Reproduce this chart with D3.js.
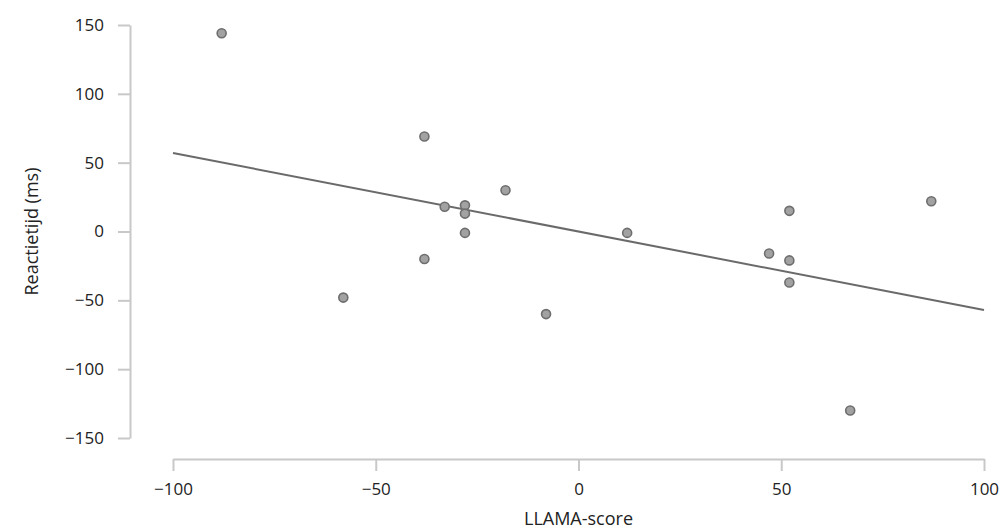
<!DOCTYPE html>
<html>
<head>
<meta charset="utf-8">
<script src="https://cdn.jsdelivr.net/npm/d3@7"></script>
<style>
    body { margin: 0; background: #fff; }
    svg { display: block; }
    .axis path, .axis line { stroke: #c8c8c8; stroke-width: 2; }
    .axis text { font-family: "Open Sans", sans-serif; font-size: 17px; fill: #222; }
    .title { font-family: "Open Sans", sans-serif; font-size: 18px; fill: #222; }
</style>
</head>
<body>
<svg id="chart"></svg>
<script>
/* =====
   DATA
==== */

const llamaScore = [-88, -38, -33, -28, -28, -28, -18, -38, -58, -8, 12, 47, 52, 52, 52, 87, 67];
const reactionMs = [144, 69, 18, 19, 13, -1, 30, -20, -48, -60, -1, -16, 15, -21, -37, 22, -130];

// fitted regression line
const fitX = [-100, 100];
const fitY = [57, -57];

const xTicks = [-100, -50, 0, 50, 100];
const yTicks = [-150, -100, -50, 0, 50, 100, 150];


/* =====
   SETUP
==== */

const width = 1001;
const height = 531;

const svg = d3.select("#chart")
    .attr("width", width)
    .attr("height", height);

const x = d3.scaleLinear().domain([-100, 100]).range([173, 984]);
const y = d3.scaleLinear().domain([-150, 150]).range([438, 25]);

const fmt = d => String(d).replace("-", "\u2212");

// Axes (offset from each other, like a despined plot)
svg.append("g")
    .attr("class", "axis")
    .attr("transform", "translate(0,459)")
    .call(d3.axisBottom(x).tickValues(xTicks).tickSize(12).tickSizeOuter(0).tickPadding(12).tickFormat(fmt));

svg.append("g")
    .attr("class", "axis")
    .attr("transform", "translate(130,0)")
    .call(d3.axisLeft(y).tickValues(yTicks).tickSize(12).tickSizeOuter(0).tickPadding(14).tickFormat(fmt));

// Regression line
svg.append("line")
    .attr("x1", x(fitX[0]))
    .attr("y1", y(fitY[0]))
    .attr("x2", x(fitX[1]))
    .attr("y2", y(fitY[1]))
    .attr("stroke", "#6a6a6a")
    .attr("stroke-width", 2);

// Points
svg.selectAll(".dot")
    .data(llamaScore.map((v, i) => [v, reactionMs[i]]))
    .enter()
    .append("circle")
    .attr("class", "dot")
    .attr("cx", d => x(d[0]))
    .attr("cy", d => y(d[1]))
    .attr("r", 4.5)
    .attr("fill", "#a2a2a2")
    .attr("stroke", "#6e6e6e")
    .attr("stroke-width", 1.6);

// Axis titles
svg.append("text")
    .attr("class", "title")
    .attr("x", x(0))
    .attr("y", 525)
    .attr("text-anchor", "middle")
    .text("LLAMA-score");

svg.append("text")
    .attr("class", "title")
    .attr("transform", `translate(38,${y(0)}) rotate(-90)`)
    .attr("text-anchor", "middle")
    .text("Reactietijd (ms)");
</script>
</body>
</html>
